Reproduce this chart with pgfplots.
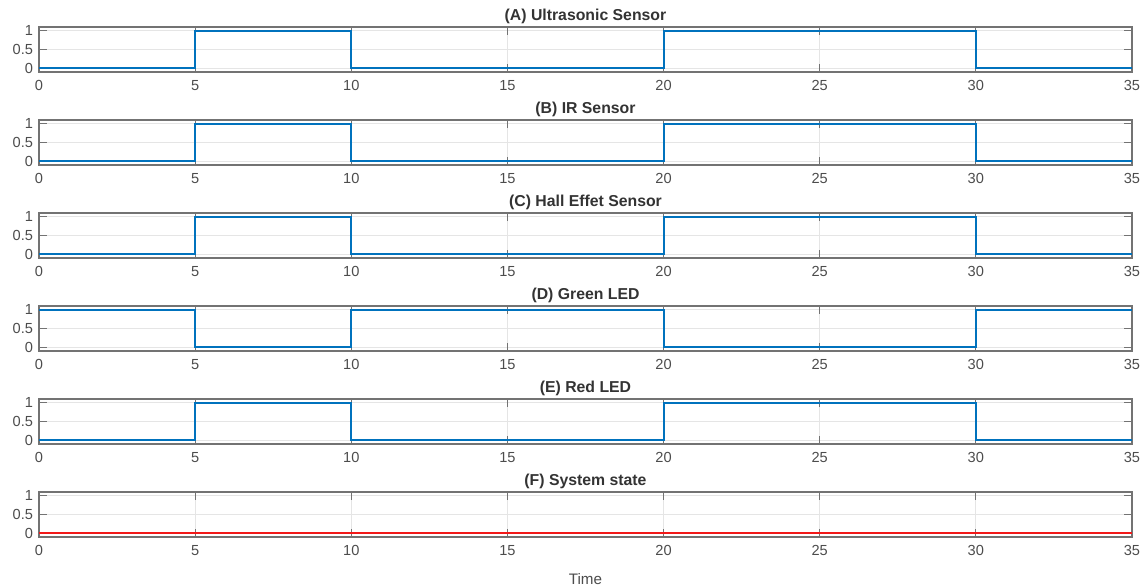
\documentclass[border=0pt]{standalone}
\usepackage{fontspec}
\setmainfont{Liberation Sans}
\usepackage{pgfplots}
\pgfplotsset{compat=1.18}
\definecolor{mblue}{rgb}{0.0,0.447,0.741}
\definecolor{mred}{rgb}{0.95,0.1,0.1}
\definecolor{axc}{gray}{0.45}
\definecolor{txc}{gray}{0.3}
\pgfplotsset{
  sigax/.style={
    scale only axis, width=546.5pt, height=22.5pt,
    xmin=0, xmax=35, ymin=-0.1, ymax=1.1,
    xtick={0,5,...,35}, ytick={0,0.5,1},
    yticklabels={0,0.5,1},
    grid=major, major grid style={gray!20, line width=0.4pt},
    axis line style={axc, line width=0.6pt},
    tick style={axc, line width=0.5pt}, tick align=inside,
    major tick length=4pt,
    tick label style={font=\fontsize{7.3}{8}\selectfont, text=txc},
    /pgf/number format/assume math mode=true,
    title style={font=\bfseries\fontsize{7.9}{9}\selectfont, text=black!80, yshift=-8pt},
    xticklabel style={yshift=-0.5pt},
    yticklabel style={xshift=0.5pt},
    every axis plot/.append style={line width=1pt},
  }
}
\begin{document}
\begin{tikzpicture}
\path[use as bounding box] (0,0) rectangle (571pt,-294pt);
% A
\begin{axis}[sigax, at={(19.5pt,-36pt)}, anchor=south west, title={(A) Ultrasonic Sensor}]
\addplot[const plot, mblue] coordinates {(0,0) (5,1) (10,0) (20,1) (30,0) (35,0)};
\end{axis}
% B
\begin{axis}[sigax, at={(19.5pt,-82.5pt)}, anchor=south west, title={(B) IR Sensor}]
\addplot[const plot, mblue] coordinates {(0,0) (5,1) (10,0) (20,1) (30,0) (35,0)};
\end{axis}
% C
\begin{axis}[sigax, at={(19.5pt,-129pt)}, anchor=south west, title={(C) Hall Effet Sensor}]
\addplot[const plot, mblue] coordinates {(0,0) (5,1) (10,0) (20,1) (30,0) (35,0)};
\end{axis}
% D
\begin{axis}[sigax, at={(19.5pt,-175.5pt)}, anchor=south west, title={(D) Green LED}]
\addplot[const plot, mblue] coordinates {(0,1) (5,0) (10,1) (20,0) (30,1) (35,1)};
\end{axis}
% E
\begin{axis}[sigax, at={(19.5pt,-222pt)}, anchor=south west, title={(E) Red LED}]
\addplot[const plot, mblue] coordinates {(0,0) (5,1) (10,0) (20,1) (30,0) (35,0)};
\end{axis}
% F
\begin{axis}[sigax, at={(19.5pt,-268.5pt)}, anchor=south west, title={(F) System state},
  xlabel={Time}, xlabel style={font=\fontsize{7.6}{8}\selectfont, text=txc, yshift=-2pt}]
\addplot[const plot, mred] coordinates {(0,0) (35,0)};
\end{axis}
\end{tikzpicture}
\end{document}
